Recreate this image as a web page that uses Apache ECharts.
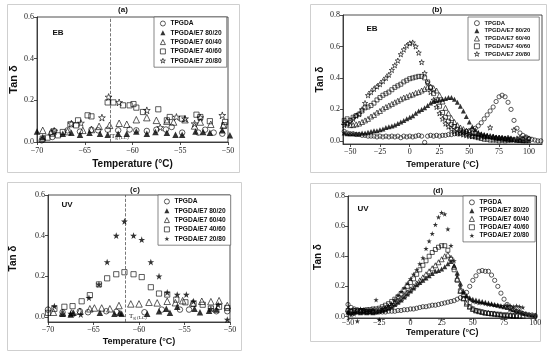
<!DOCTYPE html>
<html><head><meta charset="utf-8">
<script src="https://cdn.jsdelivr.net/npm/echarts@6/dist/echarts.min.js"></script>
<style>html,body{margin:0;padding:0;background:#fff}#c{width:550px;height:353px}</style>
</head><body><div id="c"></div>
<script>
const NAMES = ['TPGDA','TPGDA/E7 80/20','TPGDA/E7 60/40','TPGDA/E7 40/60','TPGDA/E7 20/80'];

// ---------- Panel (a) EB, low temperature ----------
const aX0 = [-69.5,-68.4,-68.2,-66.8,-65.5,-64.3,-63.6,-62.6,-61.5,-60.3,-59.6,-58.5,-57.5,-56.5,-55.9,-54.8,-53.1,-52.4,-51.5,-50.6];
const aY0 = [0.008,0.024,0.053,0.056,0.05,0.059,0.056,0.059,0.056,0.06,0.056,0.053,0.059,0.06,0.072,0.045,0.045,0.059,0.045,0.04];
const aX1 = [-70,-69.4,-67.3,-66.4,-65.5,-64.5,-63.4,-62.6,-61.5,-60.6,-59.6,-58.5,-57.6,-56.4,-55.5,-54.8,-53.4,-52.6,-51.9,-50.6,-49.8];
const aY1 = [0.051,0.024,0.04,0.045,0.035,0.045,0.04,0.035,0.04,0.04,0.051,0.04,0.048,0.045,0.035,0.035,0.051,0.048,0.045,0.056,0.032];
const aX2 = [-69.4,-68.5,-66.8,-65.2,-64.3,-63.5,-62.4,-61.4,-60.6,-59.6,-58.5,-57.5,-56.4,-55.7,-54.5,-53.5,-52.9,-51.8,-50.5];
const aY2 = [0.056,0.05,0.05,0.056,0.06,0.075,0.08,0.09,0.085,0.107,0.117,0.104,0.1,0.096,0.107,0.077,0.096,0.085,0.08];
const aX3 = [-69.4,-68.9,-68.4,-67.8,-67.3,-66.5,-65.9,-65.7,-64.7,-64.3,-62.6,-62,-61,-60.3,-59.9,-59.6,-58.9,-57.3,-56.4,-56.1,-54.8,-53.3,-52.9,-51.9,-50.3,-50.4];
const aY3 = [0.016,0.021,0.04,0.032,0.048,0.085,0.08,0.104,0.128,0.123,0.19,0.19,0.176,0.176,0.182,0.165,0.144,0.157,0.104,0.12,0.112,0.131,0.12,0.1,0.096,0.08];
const aX4 = [-68.2,-66.4,-65.4,-63.2,-62.5,-61.4,-58.5,-57.1,-55.4,-54.5,-53.5,-52.9,-50.6];
const aY4 = [0.053,0.088,0.091,0.117,0.216,0.19,0.152,0.07,0.12,0.112,0.088,0.117,0.128];

// ---------- Panel (b) EB, full range ----------
const bX = [-55,-52.5,-50,-47.5,-45,-42.5,-40,-37.5,-35,-32.5,
            -30,-27.5,-25,-22.5,-20,-17.5,-15,-12.5,-10,-7.5,
            -5,-2.5,0,2.5,5,7.5,10,12.5,15,17.5,
            20,22.5,25,27.5,30,32.5,35,37.5,40,42.5,
            45,47.5,50,52.5,55,57.5,60,62.5,65,67.5,
            70,72.5,75,77.5,80,82.5,85,87.5,90,92.5,
            95,97.5,100,102.5,105,107.5,110];
const bY0 = [0.06,0.05,0.045,0.045,0.04,0.04,0.035,0.035,0.03,0.03,
             0.03,0.025,0.03,0.025,0.03,0.025,0.03,0.025,0.03,0.02,
             0.03,0.025,0.03,0.025,0.03,0.035,0.03,-0.01,0.03,0.035,
             0.03,0.035,0.03,0.035,0.035,0.04,0.04,0.045,0.045,0.05,
             0.055,0.06,0.065,0.07,0.08,0.095,0.115,0.14,0.165,0.19,
             0.215,0.25,0.28,0.29,0.28,0.245,0.2,0.13,0.08,0.05,
             0.035,0.025,0.015,0.01,0.005,0.0,0.0];
const bY1 = [0.05,0.045,0.045,0.045,0.045,0.045,0.05,0.05,0.055,0.06,
             0.065,0.065,0.07,0.075,0.085,0.09,0.095,0.1,0.11,0.12,
             0.13,0.14,0.15,0.16,0.175,0.19,0.2,0.21,0.225,0.24,
             0.25,0.255,0.26,0.265,0.27,0.275,0.275,0.265,0.245,0.22,
             0.19,0.155,0.12,0.09,0.07,0.055,0.045,0.04,0.035,0.03,
             0.03,0.025,0.02,0.02,0.015,0.015,0.01,0.01,0.005,0.005,
             0.0,0.0,0.0,null,null,null,null];
const bY2 = [0.12,0.11,0.1,0.1,0.105,0.11,0.12,0.13,0.14,0.155,
             0.165,0.18,0.19,0.205,0.215,0.225,0.235,0.245,0.255,0.265,
             0.275,0.28,0.29,0.295,0.305,0.31,0.32,0.33,0.34,0.345,
             0.335,0.32,0.29,0.25,0.21,0.175,0.145,0.12,0.1,0.085,
             0.075,0.065,0.06,0.055,0.05,0.045,0.04,0.035,0.03,0.03,
             0.025,0.02,0.02,0.015,0.015,0.01,0.01,0.01,0.005,0.005,
             0.005,null,null,null,null,null,null];
const bY3 = [0.13,0.14,0.13,0.15,0.16,0.17,0.19,0.21,0.215,0.225,
             0.24,0.26,0.275,0.29,0.3,0.31,0.325,0.34,0.35,0.36,
             0.375,0.385,0.395,0.4,0.405,0.41,0.41,0.4,0.375,0.34,
             0.3,0.26,0.22,0.18,0.15,0.125,0.105,0.09,0.075,0.065,
             0.055,0.045,0.04,0.03,0.025,0.02,0.015,0.01,0.01,0.005,
             0.005,0.005,0.0,0.005,0.0,0.005,0.005,null,null,null,
             null,null,null,null,null,null,null];
const bY4 = [0.1,0.11,0.12,0.14,0.16,0.17,0.2,0.24,0.29,0.31,
             0.33,0.345,0.36,0.38,0.4,0.42,0.45,0.48,0.51,0.55,
             0.58,0.605,0.62,0.625,0.6,0.56,0.5,0.43,0.37,0.31,
             0.26,0.215,0.175,0.14,0.11,0.09,0.075,0.06,0.05,0.045,
             0.04,0.035,0.03,0.03,0.03,0.025,0.03,0.025,0.03,0.085,
             0.025,0.02,0.02,0.02,0.015,0.02,0.015,0.07,0.015,0.02,
             0.015,0.02,0.015,null,null,null,null];

// ---------- Panel (c) UV, low temperature ----------
const cX0 = [-70,-68.4,-66.5,-65.6,-63.6,-62.5,-59.4,-57.5,-55.5,-54.5,-51.5,-50.3];
const cY0 = [0.036,0.023,0.028,0.023,0.028,0.025,0.023,0.036,0.036,0.036,0.028,0.028];
const cX1 = [-68.4,-67.5,-67.2,-64.3,-62.7,-62.1,-61.9,-59.1,-57.8,-57,-56.6,-55.8,-53.9,-53.3,-52.3,-51.5];
const cY1 = [0.015,0.012,0.02,0.02,0.016,0.02,0.016,0.015,0.028,0.04,0.02,0.05,0.04,0.023,0.03,0.036];
const cX2 = [-69.4,-68.4,-67.4,-66.5,-65.4,-64.9,-64.1,-63.2,-62.2,-60.9,-60,-58.9,-58,-56.9,-56,-55.2,-54.1,-53.1,-52.1,-51.2,-50.3];
const cY2 = [0.023,0.02,0.02,0.028,0.04,0.044,0.044,0.04,0.056,0.064,0.064,0.072,0.069,0.077,0.07,0.08,0.069,0.077,0.075,0.08,0.056];
const cX3 = [-70,-69.3,-68.2,-67.3,-66.3,-65.4,-64.4,-63.5,-62.5,-61.6,-60.6,-59.7,-58.7,-57.8,-56.9,-55.9,-54.9,-54,-53,-52.1,-51.2,-50.3];
const cY3 = [0.02,0.04,0.05,0.053,0.077,0.107,0.16,0.19,0.21,0.22,0.21,0.196,0.146,0.115,0.11,0.085,0.072,0.064,0.06,0.041,0.05,0.044];
const cX4 = [-69.3,-67.5,-66.4,-65.5,-64.4,-63.5,-62.5,-61.6,-60.6,-59.7,-58.7,-57.8,-56.9,-55.8,-54.8,-54,-52.1,-51.3,-50.3];
const cY4 = [0.053,0.016,0.012,0.094,0.16,0.27,0.4,0.47,0.4,0.38,0.27,0.2,0.12,0.11,0.11,0.077,0.04,0.06,-0.013];

// ---------- Panel (d) UV, full range ----------
const dX = [-50,-47.5,-45,-42.5,-40,-37.5,-35,-32.5,-30,-27.5,
            -25,-22.5,-20,-17.5,-15,-12.5,-10,-7.5,-5,-2.5,
            0,2.5,5,7.5,10,12.5,15,17.5,20,22.5,
            25,27.5,30,32.5,35,37.5,40,42.5,45,47.5,
            50,52.5,55,57.5,60,62.5,65,67.5,70,72.5,
            75,77.5,80,82.5,85,87.5,90,92.5,95,97.5,
            100];
const dY0 = [0.08,0.06,0.05,0.045,0.04,0.04,0.035,0.035,0.03,0.03,
             0.03,0.03,0.03,0.035,0.035,0.035,0.04,0.04,0.045,0.045,
             0.05,0.05,0.055,0.06,0.065,0.065,0.07,0.075,0.075,0.08,
             0.085,0.09,0.095,0.1,0.105,0.115,0.125,0.14,0.16,0.2,
             0.24,0.27,0.3,0.305,0.3,0.3,0.275,0.24,0.2,0.155,
             0.115,0.08,0.06,0.045,0.035,0.03,0.02,0.015,0.01,0.01,
             0.005];
const dY1 = [0.03,0.025,0.03,0.03,0.025,0.03,0.025,0.03,0.025,0.03,
             0.035,0.04,0.045,0.055,0.065,0.08,0.095,0.11,0.13,0.15,
             0.17,0.19,0.21,0.225,0.24,0.255,0.27,0.285,0.3,0.305,
             0.315,0.33,0.35,0.365,0.34,0.29,0.22,0.17,0.14,0.125,
             0.115,0.11,0.105,0.1,0.095,0.09,0.085,0.08,0.075,0.07,
             0.065,0.06,0.05,0.045,0.04,0.035,0.025,0.02,0.015,0.01,
             0.01];
const dY2 = [0.05,0.04,0.04,0.04,0.035,0.035,0.035,0.035,0.04,0.04,
             0.045,0.05,0.055,0.065,0.075,0.09,0.105,0.12,0.14,0.16,
             0.18,0.2,0.22,0.24,0.26,0.28,0.3,0.32,0.34,0.36,
             0.38,0.4,0.41,0.39,0.33,0.25,0.17,0.12,0.085,0.065,
             0.05,0.04,0.035,0.03,0.025,0.025,0.02,0.02,0.015,0.015,
             0.01,0.01,0.01,0.005,0.005,0.005,0.005,null,null,null,
             null];
const dY3 = [0.04,0.035,0.04,0.035,0.04,0.04,0.045,0.045,0.05,0.05,
             0.055,0.065,0.075,0.085,0.1,0.115,0.13,0.15,0.175,0.2,
             0.225,0.25,0.28,0.31,0.34,0.37,0.4,0.425,0.445,0.46,
             0.47,0.47,0.44,0.38,0.31,0.24,0.17,0.12,0.09,0.065,
             0.05,0.04,0.035,0.03,0.025,0.02,0.02,0.015,0.015,0.01,
             0.01,0.01,0.005,0.005,0.005,null,null,null,null,null,
             null];
const dY4 = [0.02,0.01,0.015,-0.03,0.05,0.045,0.04,0.04,0.045,0.11,
             -0.02,0.05,0.06,0.07,0.085,0.11,0.14,0.165,0.19,0.22,
             0.25,0.28,0.31,0.35,0.39,0.45,0.5,0.55,0.61,0.66,
             0.69,0.68,0.58,0.47,0.37,0.27,0.2,0.155,0.13,0.115,
             0.1,0.095,0.09,0.09,0.085,0.08,0.08,0.075,0.075,0.07,
             0.07,0.075,0.07,0.065,0.07,0.065,0.06,null,null,null,
             null];

const lowTicks = [-70,-65,-60,-55,-50];
const fullTicks = [-50,-25,0,25,50,75,100];
const yTicks6 = [0,0.2,0.4,0.6];
const yTicks8 = [0,0.2,0.4,0.6,0.8];

// ---------- styling helpers ----------
const STAR = 'path://M50,2 L61.8,36.2 L97.6,36.2 L68.6,57.4 L79.4,91.6 L50,70.4 L20.6,91.6 L31.4,57.4 L2.4,36.2 L38.2,36.2 Z';
const OPEN = {color:'rgba(255,255,255,0)', borderColor:'#000', borderWidth:0.8};
const FILL = {color:'#000', borderWidth:0};
function symOf(i, starFilled){
  if(i===0) return {symbol:'circle', style:OPEN, k:0.85};
  if(i===1) return {symbol:'triangle', style:FILL, k:1};
  if(i===2) return {symbol:'triangle', style:OPEN, k:1};
  if(i===3) return {symbol:'rect', style:OPEN, k:0.8};
  return {symbol:STAR, style: starFilled?FILL:OPEN, k:1.05};
}
function pts(xs, ys){ const r=[]; for(let i=0;i<xs.length;i++){ if(ys[i]!==null) r.push([xs[i], ys[i]]); } return r; }

const panels = [
  {xs:[aX0,aX1,aX2,aX3,aX4], ys:[aY0,aY1,aY2,aY3,aY4], size:6.5, starFilled:false},
  {xs:[bX,bX,bX,bX,bX], ys:[bY0,bY1,bY2,bY3,bY4], size:5, starFilled:false},
  {xs:[cX0,cX1,cX2,cX3,cX4], ys:[cY0,cY1,cY2,cY3,cY4], size:6.5, starFilled:true},
  {xs:[dX,dX,dX,dX,dX], ys:[dY0,dY1,dY2,dY3,dY4], size:5, starFilled:true}
];

const grids = [
  {left:37, top:17, width:191, height:125},
  {left:343, top:15, width:199, height:129},
  {left:48, top:195, width:182, height:127},
  {left:348, top:196, width:188.5, height:122}
];
const xRanges = [[-70,-50,lowTicks],[-56,111,fullTicks],[-70,-50,lowTicks],[-50,101,fullTicks]];
const yRanges = [[0,0.6,yTicks6],[-0.02,0.8,yTicks8],[-0.025,0.6,yTicks6],[-0.01,0.8,yTicks8]];
const xNameGap = [17,16,15,9];
const xLabMargin = [5,4,4,1];
const yNameGap = [18,18,30,25];
const nameSize = [10,9,9,9];

const tickLab = {fontFamily:'Liberation Serif', fontSize:8, color:'#222'};
const option = {
  animation:false,
  backgroundColor:'#fff',
  grid: grids.map(g=>Object.assign({show:true, borderColor:'#222', borderWidth:0.8, backgroundColor:'transparent', containLabel:false}, g)),
  xAxis: xRanges.map((r,p)=>({
    gridIndex:p, type:'value', min:r[0], max:r[1],
    name:'Temperature (°C)', nameLocation:'middle', nameGap:xNameGap[p],
    nameTextStyle:{fontFamily:'Liberation Sans', fontWeight:'bold', fontSize:nameSize[p], color:'#111'},
    axisLine:{show:true, onZero:false, lineStyle:{color:'#222', width:0.8}},
    axisTick:{show:true, length:3, customValues:r[2], lineStyle:{color:'#222', width:0.8}},
    axisLabel:Object.assign({customValues:r[2], margin:xLabMargin[p], formatter:v=>String(v).replace('-','\u2212')}, tickLab),
    splitLine:{show:false}
  })),
  yAxis: yRanges.map((r,p)=>({
    gridIndex:p, type:'value', min:r[0], max:r[1],
    name:'Tan \u03b4', nameLocation:'middle', nameGap:yNameGap[p],
    nameTextStyle:{fontFamily:'Liberation Sans', fontWeight:'bold', fontSize:nameSize[p]+1, color:'#111'},
    axisLine:{show:true, onZero:false, lineStyle:{color:'#222', width:0.8}},
    axisTick:{show:true, length:3, customValues:r[2], lineStyle:{color:'#222', width:0.8}},
    axisLabel:Object.assign({customValues:r[2], margin:3, formatter:v=>v.toFixed(1)}, tickLab),
    splitLine:{show:false}
  })),
  legend: [
    {left:154, top:17, fs:6.6, lh:7, gap:2.3, pr:5},
    {left:468, top:17, fs:5.9, lh:6.3, gap:1.4, pr:9},
    {left:158, top:195, fs:6.6, lh:7, gap:2.3, pr:5},
    {left:463, top:196, fs:6.4, lh:6.7, gap:1.6, pr:6}
  ].map((L,p)=>({
    orient:'vertical', left:L.left, top:L.top, itemWidth:5, itemHeight:5, itemGap:L.gap,
    padding:[3,L.pr,3,6], borderColor:'#555', borderWidth:0.7, backgroundColor:'#fff',
    selectedMode:false,
    textStyle:{fontFamily:'Liberation Sans', fontWeight:'bold', fontSize:L.fs, color:'#111', lineHeight:L.lh},
    data: NAMES.map((n,i)=>{ const s=symOf(i, panels[p].starFilled); return {name:n, icon:s.symbol, itemStyle:Object.assign({}, s.style)}; })
  })),
  series: [],
  graphic: []
};

panels.forEach((P,p)=>{
  for(let i=0;i<5;i++){
    const s = symOf(i, P.starFilled);
    const ser = {
      type:'scatter', name:NAMES[i], xAxisIndex:p, yAxisIndex:p,
      data: pts(P.xs[i], P.ys[i]), symbol:s.symbol, symbolSize:P.size*s.k,
      itemStyle:Object.assign({}, s.style), clip:false, silent:true, z:2+i
    };
    if(i===0 && (p===0 || p===2)){
      ser.markLine = {silent:true, symbol:'none', label:{show:false},
        lineStyle:{type:'dashed', color:'#555', width:0.8},
        data:[{xAxis: p===0 ? -62.3 : -61.5}]};
    }
    option.series.push(ser);
  }
});

// frames around each sub-figure
[[7,4,232,168],[310,4,236,168],[7,182,234,168],[310,183,230,158]].forEach(r=>{
  option.graphic.push({type:'rect', silent:true, shape:{x:r[0]+0.5,y:r[1]+0.5,width:r[2],height:r[3]}, style:{fill:'none', stroke:'#cfcfcf', lineWidth:1}, z:-1});
});
// titles, method labels, Tg annotations
const txt = (x,y,t,size,align)=>({type:'text', silent:true, x:x, y:y, style:{text:t, fill:'#111', font:'bold '+size+'px "Liberation Sans"', textAlign:align||'center', textVerticalAlign:'middle'}});
option.graphic.push(txt(123,10,'(a)',8), txt(437,10,'(b)',8), txt(135,190,'(c)',8), txt(438,191,'(d)',8));
option.graphic.push(txt(58,33,'EB',8), txt(372,29,'EB',8), txt(67,205,'UV',8), txt(363,209,'UV',8));
const tg = (x,y)=>({type:'text', silent:true, x:x, y:y, style:{text:'{t|T}{s|g (LC)}', textVerticalAlign:'middle', rich:{t:{fontFamily:'Liberation Serif', fontSize:7, fill:'#222'}, s:{fontFamily:'Liberation Serif', fontSize:5, fill:'#222', padding:[4,0,0,0]}}}});
option.graphic.push(tg(111,136), tg(129,316));

echarts.init(document.getElementById('c'), null, {renderer:'canvas'}).setOption(option);
</script></body></html>
